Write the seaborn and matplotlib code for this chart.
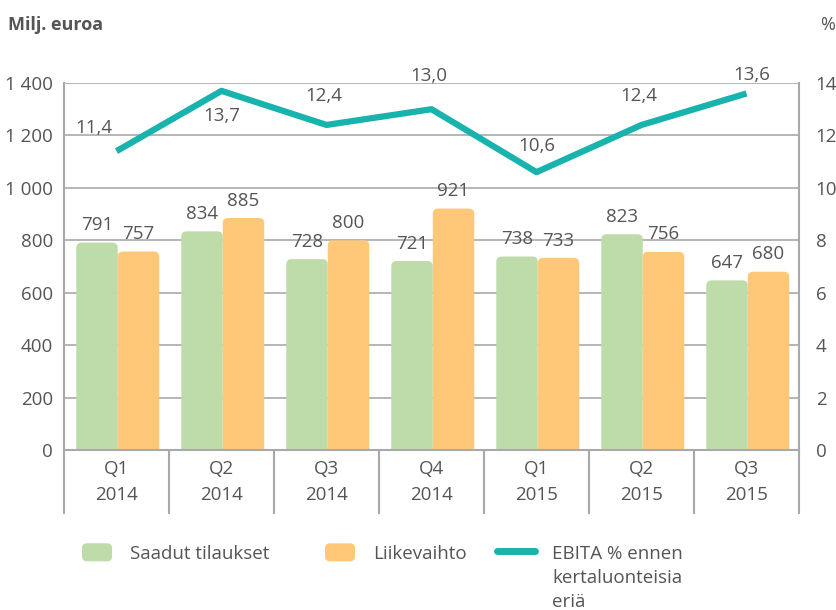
import matplotlib
matplotlib.use("Agg")
import matplotlib.pyplot as plt
from matplotlib.patches import FancyBboxPatch, Patch
from matplotlib.lines import Line2D
from matplotlib.legend_handler import HandlerPatch
import seaborn as sns
import pandas as pd
import numpy as np

quarters = ["Q1\n2014", "Q2\n2014", "Q3\n2014", "Q4\n2014", "Q1\n2015", "Q2\n2015", "Q3\n2015"]
orders = [791, 834, 728, 721, 738, 823, 647]
sales = [757, 885, 800, 921, 733, 756, 680]
ebita = [11.4, 13.7, 12.4, 13.0, 10.6, 12.4, 13.6]
series_names = ["Saadut tilaukset", "Liikevaihto"]
line_name_lines = ["EBITA % ennen", "kertaluonteisia", "eriä"]

GREEN = "#bddca9"
ORANGE = "#fec878"
TEAL = "#17b3ac"
GRID = "#a9a9ab"
TXT = "#555555"
FS = 13.5

sns.set_theme(style="white")
plt.rcParams["font.family"] = ["Open Sans", "DejaVu Sans"]

df = pd.DataFrame({
    "quarter": quarters * 2,
    "value": orders + sales,
    "series": [series_names[0]] * len(quarters) + [series_names[1]] * len(quarters),
})

W, H = 837, 610
fig = plt.figure(figsize=(W / 100, H / 100), dpi=100)
ax = fig.add_axes([64 / W, 1 - 450 / H, (799 - 64) / W, (450 - 83) / H])

sns.barplot(data=df, x="quarter", y="value", hue="series", order=quarters,
            hue_order=series_names, palette=[GREEN, ORANGE], width=0.79,
            gap=0, ax=ax, legend=False, saturation=1)

ax.set_ylim(0, 1400)
ax.set_xlim(-0.5, len(quarters) - 0.5)

# rounded bar tops
xr = 0.05
aspect = 400
for p in list(ax.patches):
    x0, w, h = p.get_x(), p.get_width(), p.get_height()
    fc = p.get_facecolor()
    p.remove()
    fb = FancyBboxPatch((x0 + 0.012, -40), w, h + 40,
                        boxstyle=f"round,pad=0,rounding_size={xr}",
                        mutation_aspect=aspect, facecolor=fc, edgecolor="none",
                        zorder=2)
    ax.add_patch(fb)
    ax.annotate(f"{int(round(h))}", (x0 + 0.012 + w / 2, h), xytext=(0, 6),
                textcoords="offset points", ha="center", va="bottom",
                fontsize=FS, color=TXT)

ax.set_yticks(np.arange(0, 1401, 200))
ax.set_yticklabels([f"{v:,}".replace(",", " ") for v in range(0, 1401, 200)])
ax.yaxis.grid(True, color=GRID, linewidth=1.2, zorder=0)
ax.set_axisbelow(True)
ax.set_xlabel("")
ax.set_ylabel("")
for s in ["left", "bottom"]:
    ax.spines[s].set_color(GRID)
    ax.spines[s].set_linewidth(1.5)
ax.spines["top"].set_visible(False)
ax.spines["right"].set_visible(False)

ax.tick_params(axis="y", length=0, pad=8, labelsize=FS, labelcolor=TXT)
ax.set_xticks(range(len(quarters)))
ax.set_xticklabels(quarters, fontsize=FS, color=TXT, linespacing=1.6)
ax.tick_params(axis="x", which="major", length=0, pad=7)
ax.set_xticks(np.arange(-0.5, len(quarters), 1), minor=True)
ax.tick_params(axis="x", which="minor", bottom=True, length=46, width=1.5,
               color=GRID, direction="out")

ax2 = ax.twinx()
sns.lineplot(x=list(range(len(quarters))), y=ebita, color=TEAL, linewidth=4.5,
             ax=ax2, legend=False, solid_capstyle="butt")
ax2.set_ylim(0, 14)
ax2.set_yticks(range(0, 15, 2))
ax2.tick_params(axis="y", length=0, pad=12, labelsize=FS, labelcolor=TXT)
for s in ["left", "top", "bottom"]:
    ax2.spines[s].set_visible(False)
ax2.spines["right"].set_color(GRID)
ax2.spines["right"].set_linewidth(1.5)
ax2.set_ylabel("")

label_offsets = [(-16, 17), (0, -18), (-2, 21), (-2, 24), (0, 19), (-2, 21), (4, 13)]
for i, v in enumerate(ebita):
    dx, dy = label_offsets[i]
    ax2.annotate(f"{v:.1f}".replace(".", ","), (i, v), xytext=(dx, dy),
                 textcoords="offset points", ha="center", va="center",
                 fontsize=FS, color=TXT)

fig.text(8 / W, 1 - 25 / H, "Milj. euroa", fontsize=13, fontweight="bold",
         color=TXT, ha="left", va="center")
fig.text(835 / W, 1 - 25 / H, "%", fontsize=13, color=TXT, ha="right", va="center")


def rounded_patch(legend, orig_handle, xdescent, ydescent, width, height, fontsize):
    return FancyBboxPatch((-xdescent, -ydescent), width, height,
                          boxstyle="round,pad=0,rounding_size=3.5")


handles = [
    Patch(facecolor=GREEN, edgecolor="none"),
    Patch(facecolor=ORANGE, edgecolor="none"),
    Line2D([0], [0], color=TEAL, linewidth=5, solid_capstyle="round"),
]
labels = series_names + [line_name_lines[0]]
anchors_x = [82, 325, 497]
hl = [1.6, 1.6, 2.0]
legs = []
for hnd, lab, axp, hlen in zip(handles, labels, anchors_x, hl):
    leg = fig.legend([hnd], [lab], loc="center left",
                     bbox_to_anchor=(axp / W, 1 - 553 / H), frameon=False,
                     fontsize=FS, handlelength=hlen, handleheight=1.1,
                     handletextpad=0.95, borderaxespad=0, borderpad=0,
                     labelcolor=TXT,
                     handler_map={Patch: HandlerPatch(patch_func=rounded_patch)})
    legs.append(leg)

fig.canvas.draw()
bb = legs[2].get_texts()[0].get_window_extent()
fig.text(bb.x0 / W, (bb.y0 - 6) / H, "\n".join(line_name_lines[1:]), fontsize=FS,
         color=TXT, ha="left", va="top", linespacing=1.45)

fig.savefig("out.png", dpi=100)
